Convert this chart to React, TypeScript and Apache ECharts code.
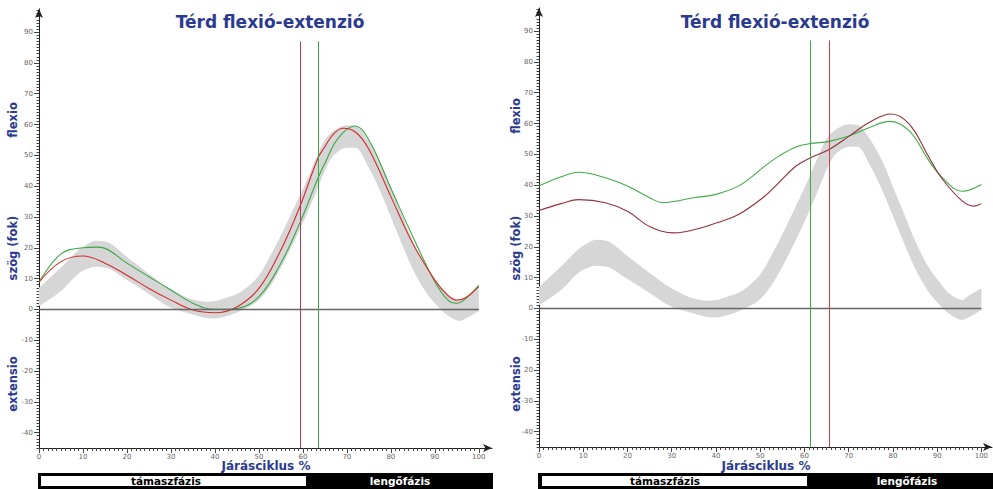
import React, { useEffect, useRef } from "react";
import * as echarts from "echarts";

// ---- data ----
const bandX = [0, 5, 10, 13, 15, 20, 25, 30, 35, 38, 40, 43, 45, 48, 50, 53, 55, 58, 60, 63, 65, 67, 70, 72, 75, 78, 80, 83, 85, 88, 90, 93, 95.7, 97, 100];
const bandLow = [1, 6, 12.5, 13.8, 13.6, 9.5, 5, 0.5, -1.7, -2.8, -3, -2, -1, 1, 3, 8.5, 13.5, 22, 28, 38, 45, 50, 52.5, 52.5, 46, 37, 30, 19.5, 13, 5.5, 2, -2, -3.8, -3, -0.5];
const bandHigh = [7, 13.6, 20.3, 22.3, 22, 17, 11.5, 6.5, 3.2, 2.5, 2.7, 4, 5, 8, 11, 18.5, 24, 33, 39, 49, 55, 58, 59.8, 59.5, 54.5, 46.5, 39.5, 29, 22, 13.5, 9.5, 4.5, 2.7, 4, 6.5];

const leftRedX = [0, 5, 10, 15, 20, 25, 30, 35, 40, 45, 50, 55, 59.3, 63.4, 65, 67, 69.2, 72, 75, 80, 85, 90, 93, 95, 97, 100];
const leftRedY = [8.8, 15.5, 17.3, 15, 11.1, 6.8, 3, -0.2, -1.1, 0.8, 6.8, 19.3, 33.3, 49, 52.8, 57, 58.8, 57.5, 52, 36.6, 21.4, 9.5, 4.5, 3, 3.8, 7.3];
const leftGreenX = [0, 5, 10, 13, 15, 20, 25, 30, 35, 40, 45, 50, 55, 59.3, 63.4, 65, 68, 71.8, 75, 80, 85, 90, 93, 95, 97, 100];
const leftGreenY = [8.8, 18, 20, 20.2, 19.8, 15, 10.6, 6.3, 2, 0, 0.3, 4.1, 15, 28, 42.5, 47.4, 55.5, 59.5, 55, 39.3, 23.6, 9, 3, 2, 3.5, 7.9];

const rightGreenX = [0, 5, 9, 15, 20, 25, 28, 30, 35, 40, 45, 48, 50.6, 54.3, 58.1, 61.4, 65.6, 70.2, 74.7, 79.2, 83.7, 88.2, 91.2, 95.7, 100];
const rightGreenY = [39.7, 42.7, 44.2, 42.4, 39.7, 35.9, 34.3, 34.6, 35.9, 37, 39.6, 42.6, 45.7, 49.5, 52.4, 53.5, 54.2, 56, 58.7, 60.7, 57.6, 47.8, 42.4, 38, 40.2];
const rightRedX = [0, 5, 9, 15, 20, 25, 30.6, 35, 40, 45, 50.6, 54, 58.1, 61.4, 65.6, 70.2, 74.7, 79.6, 83.7, 88.2, 91.2, 95.7, 98.3, 100];
const rightRedY = [31.8, 34, 35.3, 34.3, 31.5, 26.6, 24.5, 25.5, 27.7, 30.4, 35.9, 40.5, 46.2, 48.9, 51.6, 56, 60.4, 63.1, 59.8, 48.9, 41.9, 34.8, 33.2, 34];

const leftMarkers = { red: 59.3, green: 63.4 };
const rightMarkers = { red: 65.5, green: 61.4 };

const xMajor = [0, 10, 20, 30, 40, 50, 60, 70, 80, 90, 100];
const yMajor = [-40, -30, -20, -10, 0, 10, 20, 30, 40, 50, 60, 70, 80, 90];

const titleText = "Térd flexió-extenzió";
const xName = "Járásciklus %";
const yNames = ["flexio", "szög (fok)", "extensio"];
const phases = ["támaszfázis", "lengőfázis"];

// ---- helpers ----
const xMinor: number[] = [];
for (let i = 0; i <= 100; i++) xMinor.push(i);
const yMinor: number[] = [];
for (let i = -45; i <= 97; i++) yMinor.push(i);

const BLUE = "#2a3a8f";
const FONT = "DejaVu Sans";

function zip(xs: number[], ys: number[]) {
  return xs.map((x, i) => [x, ys[i]]);
}

// monotone cubic (Fritsch–Carlson) path segments through pixel points (x increasing)
function monoSegments(pts: number[][]): string {
  const n = pts.length;
  const d: number[] = [];
  for (let i = 0; i < n - 1; i++) d.push((pts[i + 1][1] - pts[i][1]) / (pts[i + 1][0] - pts[i][0]));
  const m: number[] = new Array(n);
  m[0] = d[0];
  m[n - 1] = d[n - 2];
  for (let i = 1; i < n - 1; i++) {
    if (d[i - 1] * d[i] <= 0) m[i] = 0;
    else {
      const h0 = pts[i][0] - pts[i - 1][0];
      const h1 = pts[i + 1][0] - pts[i][0];
      const w1 = 2 * h1 + h0;
      const w2 = h1 + 2 * h0;
      m[i] = (w1 + w2) / (w1 / d[i - 1] + w2 / d[i]);
    }
  }
  let s = "";
  for (let i = 0; i < n - 1; i++) {
    const h = pts[i + 1][0] - pts[i][0];
    const c1x = pts[i][0] + h / 3, c1y = pts[i][1] + (m[i] * h) / 3;
    const c2x = pts[i + 1][0] - h / 3, c2y = pts[i + 1][1] - (m[i + 1] * h) / 3;
    s += ` C ${c1x} ${c1y} ${c2x} ${c2y} ${pts[i + 1][0]} ${pts[i + 1][1]}`;
  }
  return s;
}

export default function App() {
  const ref = useRef<HTMLDivElement>(null);

  useEffect(() => {
    if (!ref.current) return;
    const chart = echarts.init(ref.current, undefined, { renderer: "svg" });

    const panels = [
      { left: 39, top: 9, width: 453, height: 439, xMax: 103, red: "#d42a2a", vRed: "#a8405a", green: "#3aa845", markers: leftMarkers, redD: zip(leftRedX, leftRedY), greenD: zip(leftGreenX, leftGreenY), neg20: "-20" },
      { left: 539, top: 8, width: 453, height: 439, xMax: 102.4, red: "#962f3c", vRed: "#c8404a", green: "#40ab48", markers: rightMarkers, redD: zip(rightRedX, rightRedY), greenD: zip(rightGreenX, rightGreenY), neg20: "20" },
    ];

    const grid: any[] = [];
    const xAxis: any[] = [];
    const yAxis: any[] = [];
    const series: any[] = [];

    panels.forEach((p, gi) => {
      grid.push({ left: p.left, top: p.top, width: p.width, height: p.height, containLabel: false });
      xAxis.push({
        type: "value", gridIndex: gi, min: 0, max: p.xMax, position: "bottom",
        axisLine: { show: true, onZero: false, symbol: ["none", "arrow"], symbolSize: [6, 9], lineStyle: { color: "#222", width: 1 } },
        axisTick: { show: true, customValues: xMinor, length: 3, lineStyle: { color: "#444", width: 1 } },
        axisLabel: { show: true, customValues: xMajor, fontSize: 7, color: "#666", margin: 5, fontFamily: FONT },
        splitLine: { show: false },
      });
      xAxis.push({
        type: "value", gridIndex: gi, min: 0, max: p.xMax, position: "bottom",
        axisLine: { show: false, onZero: false },
        axisTick: { show: true, customValues: xMajor, length: 5, lineStyle: { color: "#444", width: 1 } },
        axisLabel: { show: false },
        splitLine: { show: false },
      });
      yAxis.push({
        type: "value", gridIndex: gi, min: -45, max: 97.5, position: "left",
        axisLine: { show: true, onZero: false, symbol: ["none", "arrow"], symbolSize: [6, 9], lineStyle: { color: "#222", width: 1 } },
        axisTick: { show: true, customValues: yMinor, length: 2.5, lineStyle: { color: "#444", width: 1 } },
        axisLabel: {
          show: true, customValues: yMajor, fontSize: 7, color: "#666", margin: 6, fontFamily: FONT,
          formatter: (v: number) => (v === -20 ? p.neg20 : String(v)),
        },
        splitLine: { show: false },
      });
      yAxis.push({
        type: "value", gridIndex: gi, min: -45, max: 97.5, position: "left",
        axisLine: { show: false, onZero: false },
        axisTick: { show: true, customValues: yMajor, length: 5, lineStyle: { color: "#444", width: 1 } },
        axisLabel: { show: false },
        splitLine: { show: false },
      });

      const xi = gi * 2;
      const yi = gi * 2;
      // normative band: upper edge forward, lower edge back, smooth monotone curves
      series.push({
        type: "custom", xAxisIndex: xi, yAxisIndex: yi, silent: true, z: 1,
        data: [[0, 0]],
        renderItem: (_params: any, api: any) => {
          const up: number[][] = bandX.map((x, i) => api.coord([x, bandHigh[i]]));
          const lo: number[][] = bandX.map((x, i) => api.coord([x, bandLow[i]]));
          const loRev = lo.slice().reverse().map((q) => [-q[0], q[1]]);
          const revSeg = monoSegments(loRev).replace(/C ([^ ]+) ([^ ]+) ([^ ]+) ([^ ]+) ([^ ]+) ([^ ]+)/g,
            (_m, a, b, c, dd, e, f) => `C ${-a} ${b} ${-c} ${dd} ${-e} ${f}`);
          const pathData =
            `M ${up[0][0]} ${up[0][1]}` + monoSegments(up) +
            ` L ${lo[lo.length - 1][0]} ${lo[lo.length - 1][1]}` + revSeg + " Z";
          return {
            type: "path",
            shape: { pathData },
            style: { fill: "#d6d6d6", stroke: "none" },
          };
        },
      });
      // zero line + vertical markers
      series.push({
        type: "line", xAxisIndex: xi, yAxisIndex: yi, data: [], silent: true, z: 2,
        markLine: {
          silent: true, symbol: ["none", "none"], label: { show: false },
          data: [
            [{ coord: [0, 0], lineStyle: { color: "#666", width: 1.3, type: "solid" } }, { coord: [100, 0] }],
            [{ coord: [p.markers.red, -45], lineStyle: { color: p.vRed, width: 1, type: "solid" } }, { coord: [p.markers.red, 87] }],
            [{ coord: [p.markers.green, -45], lineStyle: { color: p.green, width: 1, type: "solid" } }, { coord: [p.markers.green, 87] }],
          ],
        },
      });
      series.push({
        type: "line", xAxisIndex: xi, yAxisIndex: yi, data: p.greenD, smooth: 0.4, showSymbol: false, symbol: "none",
        lineStyle: { color: p.green, width: 1.1 }, z: 3,
      });
      series.push({
        type: "line", xAxisIndex: xi, yAxisIndex: yi, data: p.redD, smooth: 0.4, showSymbol: false, symbol: "none",
        lineStyle: { color: p.red, width: 1.1 }, z: 4,
      });
    });

    const txt = (text: string, x: number, y: number, size: number, fill: string, extra: any = {}) => ({
      type: "text", x, y, z: 50, ...extra,
      style: {
        text, fill, font: `bold ${size}px "${FONT}"`,
        align: "center", verticalAlign: "middle", textAlign: "center", textVerticalAlign: "middle",
      },
    });

    const graphic: any[] = [];
    const gx = [
      { title: 270, yName: 13, yNameY: [120, 248, 384], xNameX: 266, barL: 38, barR: 493, whiteL: 41, whiteR: 306, lengo: 400, tamasz: 166 },
      { title: 775, yName: 516, yNameY: [116, 248, 384], xNameX: 766, barL: 538, barR: 993, whiteL: 542, whiteR: 807, lengo: 907, tamasz: 665 },
    ];
    gx.forEach((g) => {
      graphic.push(txt(titleText, g.title, 22, 17, BLUE));
      yNames.forEach((n, i) => graphic.push(txt(n, g.yName, g.yNameY[i], 11.5, BLUE, { rotation: Math.PI / 2 })));
      graphic.push(txt(xName, g.xNameX, 466, 12, BLUE));
      graphic.push({ type: "rect", z: 40, shape: { x: g.barL, y: 473, width: g.barR - g.barL, height: 16 }, style: { fill: "#000" } });
      graphic.push({ type: "rect", z: 41, shape: { x: g.whiteL, y: 476, width: g.whiteR - g.whiteL, height: 10 }, style: { fill: "#fff" } });
      graphic.push(txt(phases[0], g.tamasz, 481, 10.5, "#000"));
      graphic.push(txt(phases[1], g.lengo, 481, 10.5, "#fff"));
    });

    chart.setOption({
      animation: false,
      backgroundColor: "#ffffff",
      grid, xAxis, yAxis, series, graphic,
    });

    return () => chart.dispose();
  }, []);

  return (
    <div
      ref={ref}
      style={{ position: "fixed", left: 0, top: 0, width: 993, height: 489, background: "#fff" }}
    />
  );
}
